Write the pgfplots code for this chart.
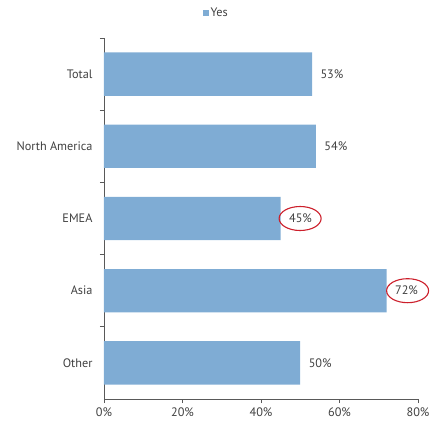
\documentclass[border=0pt]{standalone}
\usepackage{fontspec}
\setmainfont{PT Sans}
\usepackage{pgfplots}
\pgfplotsset{compat=1.18}
\definecolor{barblue}{HTML}{7FACD4}
\definecolor{txtgray}{HTML}{404040}
\definecolor{axgray}{HTML}{595959}
\definecolor{ringred}{HTML}{CC1F2B}
\begin{document}
\begin{tikzpicture}[x=1bp,y=1bp]
\begin{axis}[
    scale only axis, width=314bp, height=361bp,
    clip=false,
    xbar, bar width=0.6,
    xmin=0, xmax=80, ymin=-0.5, ymax=4.5,
    y dir=reverse,
    axis x line*=bottom, axis y line*=left,
    axis line style={axgray, line width=0.9bp},
    xtick={0,20,40,60,80},
    xticklabel={\pgfmathprintnumber{\tick}\%},
    ytick={0,1,2,3,4},
    yticklabels={Total, North America, EMEA, Asia, Other},
    minor ytick={-0.5,0.5,1.5,2.5,3.5},
    major tick length=4bp, minor tick length=4bp,
    tick align=outside,
    tick style={axgray, line width=0.8bp},
    every major y tick/.append style={draw=none},
    tick label style={font=\fontsize{12.3}{13}\selectfont, text=txtgray},
    /pgf/number format/assume math mode=true,
    yticklabel style={xshift=-4bp},
    xticklabel style={yshift=-1bp},
    nodes near coords={\pgfmathprintnumber{\pgfplotspointmeta}\%},
    nodes near coords style={font=\fontsize{12.3}{13}\selectfont, text=txtgray, xshift=5bp},
    legend style={at={(0.357,1.069)}, anchor=center, draw=none, fill=none,
        font=\fontsize{12.3}{13}\selectfont, text=txtgray, inner sep=0pt},
    legend image code/.code={\fill[barblue] (0bp,-3bp) rectangle (6bp,3bp);},
]
\addplot[fill=barblue, draw=none] coordinates {(53,0) (54,1) (45,2) (72,3) (50,4)};
\addlegendentry{Yes}
\draw[ringred, line width=1.1bp] ([xshift=19.5bp]axis cs:45,2) ellipse [x radius=21bp, y radius=12bp];
\draw[ringred, line width=1.1bp] ([xshift=21bp]axis cs:72,3) ellipse [x radius=21bp, y radius=12bp];
\end{axis}
\path (current axis.south west) ++(-104bp,-24bp) rectangle ++(442bp,423bp);
\end{tikzpicture}
\end{document}
